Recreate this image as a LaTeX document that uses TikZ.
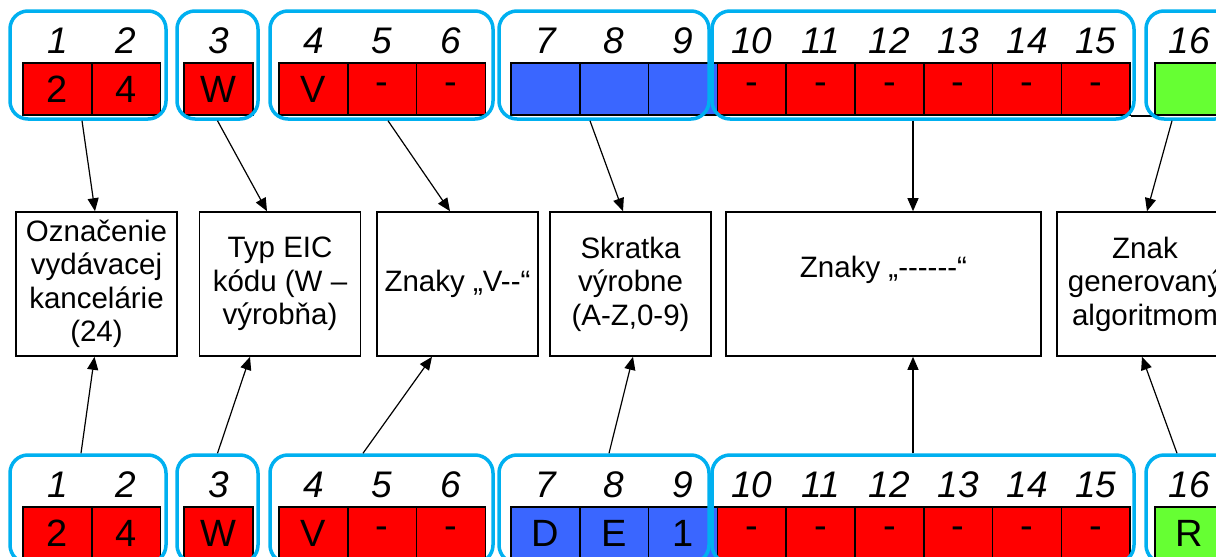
\documentclass[tikz,border=0pt]{standalone}
\usepackage{fontspec}
\setmainfont{Liberation Sans}
\usepackage{xcolor}
\usepackage{tikz}
\usetikzlibrary{arrows.meta}

\definecolor{cellred}{RGB}{255,0,0}
\definecolor{cellblue}{RGB}{58,102,255}
\definecolor{cellgreen}{RGB}{102,255,51}
\definecolor{frameblue}{RGB}{0,176,240}

\begin{document}
\begin{tikzpicture}[x=1pt,y=-1pt,node distance=68.8pt,
  cell/.style={draw=black,line width=1.5pt,minimum width=68.8pt,minimum height=52pt,inner sep=0pt,font=\fontsize{38}{40}\selectfont},
  num/.style={inner sep=0pt,font=\fontsize{37}{40}\selectfont\itshape},
  grp/.style={draw=frameblue,line width=3.5pt,rounded corners=18pt,minimum height=108pt},
  box/.style={draw=black,line width=1.6pt,minimum width=161pt,minimum height=144pt,inner sep=2pt,align=center,font=\fontsize{29.5}{33.5}\selectfont},
  arr/.style={-{Triangle[length=13pt,width=11pt]},line width=1.2pt}]
\useasboundingbox (0,0) rectangle (1216,557);
\clip (0,0) rectangle (1216,557);

\foreach \row/\yc/\yg/\sa/\sb/\sc/\sd in {up/89/65/{}/{}/{}/{}, lo/533/509/D/E/1/R} {
\node[cell,fill=cellred] (\row1) at (57.4,\yc) {2};
\node[cell,fill=cellred] (\row2) [right of = \row1] {4};
\node[cell,fill=cellred] (\row3) at (218.4,\yc) {W};
\node[cell,fill=cellred] (\row4) at (313.4,\yc) {V};
\node[cell,fill=cellred] (\row5) [right of = \row4] {-};
\node[cell,fill=cellred] (\row6) [right of = \row5] {-};
\node[cell,fill=cellblue] (\row7) at (545.4,\yc) {\sa};
\node[cell,fill=cellblue] (\row8) [right of = \row7] {\sb};
\node[cell,fill=cellblue] (\row9) [right of = \row8] {\sc};
\node[cell,fill=cellred] (\row10) [right of = \row9] {-};
\node[cell,fill=cellred] (\row11) [right of = \row10] {-};
\node[cell,fill=cellred] (\row12) [right of = \row11] {-};
\node[cell,fill=cellred] (\row13) [right of = \row12] {-};
\node[cell,fill=cellred] (\row14) [right of = \row13] {-};
\node[cell,fill=cellred] (\row15) [right of = \row14] {-};
\node[cell,fill=cellgreen] (\row16) at (1189.4,\yc) {\sd};
\draw[line width=1.5pt] (\row15.south east) -- (\row16.south west);
\foreach \i in {1,...,16}
  \node[num,node distance=48pt,above of = \row\i] (\row n\i) {\i};
\node[grp,minimum width=156pt] (\row g1) at (88,\yg) {};
\node[grp,minimum width=81pt] (\row g2) at (217.5,\yg) {};
\node[grp,minimum width=223pt] (\row g3) at (381.5,\yg) {};
\node[grp,minimum width=210pt] (\row g4) at (604,\yg) {};
\node[grp,minimum width=422pt] (\row g5) at (923,\yg) {};
\node[grp,minimum width=87pt] (\row g6) at (1189.5,\yg) {};
}

\node[box] (office) at (96.5,284) {Označenie\\vydávacej\\kancelárie\\(24)};
\node[box] (eictype) at (280,284) {Typ EIC\\kódu (W –\\výrobňa)};
\node[box] (vchars) at (457.5,284) {Znaky „V{-}{-}“};
\node[box] (plant) at (630.5,284) {Skratka\\výrobne\\(A-Z,0-9)};
\node[box,minimum width=315pt] (dashes) at (883.5,284) {Znaky „-{}-{}-{}-{}-{}-“\\\mbox{}};
\node[box,minimum width=176pt] (check) at (1145,284) {Znak\\generovaný\\algoritmom};

\draw[arr] ([xshift=-6pt]upg1.south) -- ([xshift=-1.5pt]office.north);
\draw[arr] (upg2.south) -- ([xshift=-13pt]eictype.north);
\draw[arr] ([xshift=6.5pt]upg3.south) -- ([xshift=-7.5pt]vchars.north);
\draw[arr] ([xshift=-14pt]upg4.south) -- ([xshift=-7.5pt]plant.north);
\draw[arr] ([xshift=-10pt]upg5.south) -- ([xshift=29.5pt]dashes.north);
\draw[arr] ([xshift=-17.5pt]upg6.south) -- ([xshift=2pt]check.north);

\draw[arr] ([xshift=-7pt]log1.north) -- ([xshift=-2pt]office.south);
\draw[arr] (log2.north) -- ([xshift=-30pt]eictype.south);
\draw[arr] ([xshift=-18.5pt]log3.north) -- ([xshift=-25.5pt]vchars.south);
\draw[arr] ([xshift=5pt]log4.north) -- ([xshift=2.5pt]plant.south);
\draw[arr] ([xshift=-10pt]log5.north) -- ([xshift=29.5pt]dashes.south);
\draw[arr] ([xshift=-12.5pt]log6.north) -- ([xshift=-3pt]check.south);
\end{tikzpicture}
\end{document}
